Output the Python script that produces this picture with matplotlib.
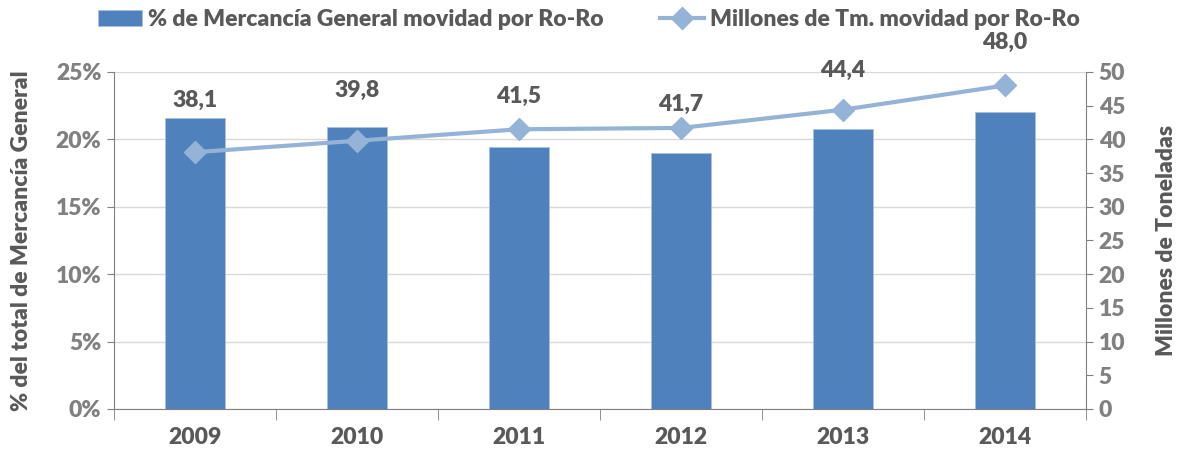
import matplotlib.pyplot as plt
from matplotlib.ticker import FuncFormatter

# data
years = ['2009', '2010', '2011', '2012', '2013', '2014']
pct_roro = [21.6, 20.9, 19.4, 19.0, 20.8, 22.0]          # % de mercancía general
mill_tm = [38.1, 39.8, 41.5, 41.7, 44.4, 48.0]           # millones de Tm
label_offsets = [52, 50, 33, 24, 39, 43]                 # label lift above points (px)

bar_color = '#4F81BD'
line_color = '#95B3D7'
dark = '#595959'
grey = '#808080'
fs = 16.5
wt = 'heavy'

plt.rcParams['font.family'] = ['Lato', 'DejaVu Sans']
plt.rcParams['font.weight'] = wt

fig = plt.figure(figsize=(11.85, 4.55), dpi=100)
ax = fig.add_axes([0.0962, 0.1011, 0.8203, 0.7407])
x = list(range(len(years)))

ax.bar(x, pct_roro, width=0.37, color=bar_color, edgecolor='#a9c0dd',
       linewidth=0.6, zorder=2, label='% de Mercancía General movidad por Ro-Ro')
ax.set_ylim(0, 25)
ax.set_xlim(-0.5, len(years) - 0.5)
ax.set_yticks([0, 5, 10, 15, 20, 25])
ax.yaxis.set_major_formatter(FuncFormatter(lambda v, p: f'{v:.0f}%'))
ax.grid(axis='y', color='#D9D9D9', linewidth=1, zorder=0)
ax.set_axisbelow(True)

ax.set_xticks(x)
ax.set_xticklabels(years, fontsize=fs, fontweight=wt, color=dark)
ax.set_xticks([i - 0.5 for i in range(len(years) + 1)], minor=True)
ax.tick_params(axis='x', which='major', length=0, pad=13)
ax.tick_params(axis='x', which='minor', length=8, color=grey)
ax.tick_params(axis='y', length=5, color=grey, labelcolor=grey, labelsize=fs, pad=4)

for side in ['top', 'right']:
    ax.spines[side].set_visible(False)
ax.spines['left'].set_color(grey)
ax.spines['bottom'].set_color(grey)

ax.set_ylabel('% del total de Mercancía General', fontsize=fs, fontweight=wt,
              color=dark, labelpad=17)

ax2 = ax.twinx()
ax2.plot(x, mill_tm, color=line_color, linewidth=3, marker='D', markersize=11,
         zorder=3, label='Millones de Tm. movidad por Ro-Ro')
ax2.set_ylim(0, 50)
ax2.set_yticks(range(0, 55, 5))
ax2.tick_params(axis='y', length=5, color=grey, labelcolor=grey, labelsize=fs, pad=4)
for side in ['top', 'left', 'bottom']:
    ax2.spines[side].set_visible(False)
ax2.spines['right'].set_color(grey)
ax2.set_ylabel('Millones de Toneladas', fontsize=fs, fontweight=wt,
               color=dark, labelpad=22)

for xi, v, off in zip(x, mill_tm, label_offsets):
    ax2.annotate(f'{v:.1f}'.replace('.', ','), (xi, v), xytext=(0, off),
                 textcoords='offset pixels', ha='center', va='center',
                 fontsize=fs, fontweight=wt, color=dark)

h1, l1 = ax.get_legend_handles_labels()
h2, l2 = ax2.get_legend_handles_labels()
fig.legend(h1 + h2, l1 + l2, loc='upper center', bbox_to_anchor=(0.497, 1.025),
           ncol=2, frameon=False, fontsize=fs, columnspacing=2.5,
           handlelength=1.92, handletextpad=0.26, labelcolor=dark)

fig.savefig('out.png', dpi=100)
